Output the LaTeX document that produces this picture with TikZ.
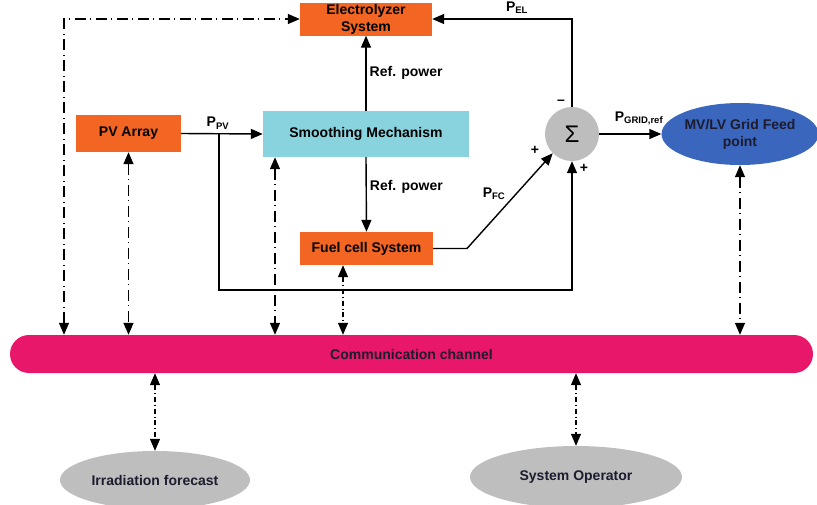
\documentclass[tikz,border=0pt]{standalone}
\usepackage{fontspec}
\setmainfont{Liberation Sans}
\usetikzlibrary{arrows.meta,shapes.geometric}
\definecolor{boxorange}{HTML}{F26522}
\definecolor{boxcyan}{HTML}{88D3DE}
\definecolor{sumgray}{HTML}{BDBDBD}
\definecolor{gridblue}{HTML}{3B66BE}
\definecolor{busred}{HTML}{E8176A}
\definecolor{ellgray}{HTML}{BEBEBE}
\definecolor{darktext}{HTML}{1C1C2E}
\newcommand{\bigbf}{\bfseries\fontsize{14}{17}\selectfont}
\newcommand{\subtxt}[1]{\textsubscript{\textnormal{\bfseries\fontsize{9.5}{10}\selectfont #1}}}
\tikzset{
  tip/.tip={Triangle[length=12pt,width=10pt]},
  blockbox/.style={draw=none,fill=boxorange,minimum height=33pt,font=\bigbf,align=center,inner sep=1pt},
  sig/.style={line width=1.4pt,-tip},
  comm/.style={line width=1.4pt,tip-tip,dash pattern=on 11pt off 4.5pt on 1pt off 4.5pt},
  commfine/.style={line width=1.2pt,tip-tip,dash pattern=on 5pt off 3pt on 0.8pt off 3pt},
  lbl/.style={font=\bigbf,inner sep=1pt},
  cloud/.style={ellipse,fill=ellgray,draw=none,font=\bigbf,text=darktext},
}
\begin{document}
\begin{tikzpicture}[x=1pt,y=-1pt]
\useasboundingbox (0,0) rectangle (817,504);

% blocks
\node[blockbox,minimum width=132pt] (el) at (366,19) {Electrolyzer\\System};
\node[blockbox,minimum width=105pt,minimum height=37pt] (pv) at (128.5,133.5) {PV Array};
\node[blockbox,fill=boxcyan,minimum width=206pt,minimum height=46pt] (sm) at (366,134) {Smoothing Mechanism};
\node[blockbox,minimum width=133pt] (fc) at (366.5,248.5) {Fuel cell System};
\node[circle,fill=sumgray,minimum size=54pt,inner sep=0pt,font=\fontsize{24}{26}\selectfont] (sum) at (572,134) {Σ};
\node[ellipse,fill=gridblue,minimum width=154pt,minimum height=62pt,inner sep=0pt,align=center,
      font=\bigbf,text=darktext] (grid) at (740,134) {MV/LV Grid Feed\\point};
\node[rounded corners=19pt,fill=busred,minimum width=803pt,minimum height=38pt,inner sep=0pt,
      font=\bigbf,text=darktext] (bus) at (411.5,354) {Communication channel};
\node[cloud,minimum width=190pt,minimum height=58pt] (irr) at (155,480) {Irradiation forecast};
\node[cloud,minimum width=212pt,minimum height=62pt] (so) at (576,477) {System Operator};

% power flow
\draw[sig] (pv.east) -- (sm.west) node[lbl,pos=0.45,above=3pt] {P\subtxt{PV}};
\draw[sig] (sm.north) -- (el.south) node[lbl,midway,right=2pt] {Ref. power};
\draw[sig] (sm.south) -- (fc.north) node[lbl,pos=0.4,right=2pt] {Ref. power};
\coordinate (br) at (219,133.5);
\coordinate (fcc) at (467,248.5);
\draw[line width=1.4pt,-tip] (br) -- (219,290) -- (572,290) -- (sum.south);
\draw[line width=1.4pt,-tip] (fc.east) -- (fcc) -- (sum.225);
\draw[line width=1.4pt,-tip] (sum.north) -- (572,19) -- (el.east);
\draw[sig] (sum.east) -- (grid.west);

% signal labels
\node[lbl] (lpel) at (517,8) {P\subtxt{EL}};
\node[lbl] (lpfc) at (494,194) {P\subtxt{FC}};
\node[lbl] (lpgr) at (639,118) {P\subtxt{GRID,ref}};
\node[lbl] (mminus) at (561,102) {\textendash};
\node[lbl] (pleft) at (535,150) {+};
\node[lbl] (pbot) at (584,168) {+};

% communication links
\coordinate (elc) at (64,19);
\draw[comm] (bus.north -| elc) -- (elc) -- (el.west);
\draw[comm] (pv.south) -- (bus.north -| pv.south);
\draw[comm] (sm.south -| 275,0) -- (bus.north -| 275,0);
\draw[commfine] (fc.south -| 343,0) -- (bus.north -| 343,0);
\draw[comm] (grid.south) -- (bus.north -| grid.south);
\draw[commfine] (bus.south -| irr.north) -- (irr.north);
\draw[commfine] (bus.south -| so.north) -- (so.north);
\end{tikzpicture}
\end{document}
